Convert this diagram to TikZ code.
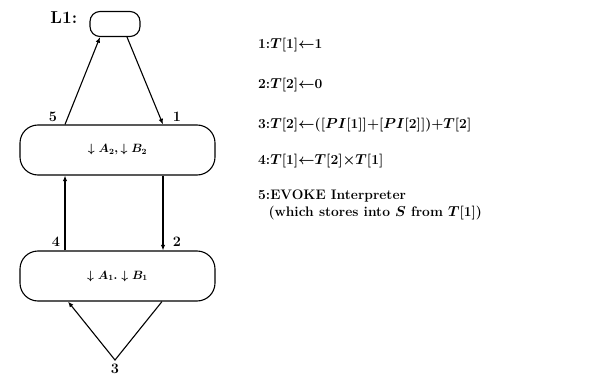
\documentclass[tikz,border=0pt]{standalone}
\usepackage{tikz}
\usetikzlibrary{positioning,calc,arrows.meta}
\tikzset{
    every node/.style={font=\bfseries\boldmath},
    stepbox/.style={draw, line width=1.1pt, rounded corners=18pt, minimum width=195pt, minimum height=50pt, align=center, font=\bfseries\boldmath\large},
    topbox/.style={draw, line width=1.1pt, rounded corners=10pt, minimum width=50pt, minimum height=25pt},
    arrow/.style={-{Latex[length=2mm,width=1.6mm]}, line width=1.1pt},
    num/.style={font=\bfseries\Large, inner sep=1pt},
    stmt/.style={anchor=west, inner sep=0pt, align=left, font=\bfseries\boldmath\fontsize{13.8}{17}\selectfont},
}
\begin{document}
\begin{tikzpicture}[x=1pt,y=-1pt]
\useasboundingbox (0,0) rectangle (593,382);
% the three blocks of the loop
\node[topbox] (L1) at (115,24) {};
\node[left=12pt of L1.north west, anchor=north east, inner sep=0pt, font=\bfseries\LARGE] (L1lab) {L1:};
\node[stepbox] (mid) at (117.5,150) {$\downarrow A_2,\downarrow B_2$};
\node[stepbox] (bot) at (117.5,276) {$\downarrow A_1.\downarrow B_1$};
\coordinate (apex) at (115,360);

% edges
\draw[arrow] ($(mid.north)+(-52.5,0)$) -- ($(L1.south)+(-15,0)$);
\draw[arrow] ($(L1.south)+(12,0)$) -- ($(mid.north)+(45.5,0)$);
\draw[arrow] ($(bot.north)+(-52.5,0)$) -- ($(mid.south)+(-52.5,0)$);
\draw[arrow] ($(mid.south)+(45.5,0)$) -- ($(bot.north)+(45.5,0)$);
\draw[arrow] ($(bot.south)+(44.5,0)$) -- (apex) -- ($(bot.south)+(-49.5,0)$);

% edge numbers
\node[num] (n5) at (53,117) {5};
\node[num] (n1) at (177,117) {1};
\node[num] (n4) at (56,242) {4};
\node[num] (n2) at (177,242) {2};
\node[num, below=3pt of apex] (n3) {3};

% statements
\node[stmt] (s1) at (258,45) {1:$T$[1]$\leftarrow$1};
\node[stmt] (s2) at (258,85) {2:$T$[2]$\leftarrow$0};
\node[stmt] (s3) at (258,125) {3:$T$[2]$\leftarrow$([$PI$[1]]+[$PI$[2]])+$T$[2]};
\node[stmt] (s4) at (258,161) {4:$T$[1]$\leftarrow$$T$[2]$\times$$T$[1]};
\node[stmt, anchor=north west] (s5) at (258,190) {5:EVOKE Interpreter\\\ \ (which stores into $S$ from $T$[1])};
\end{tikzpicture}
\end{document}
